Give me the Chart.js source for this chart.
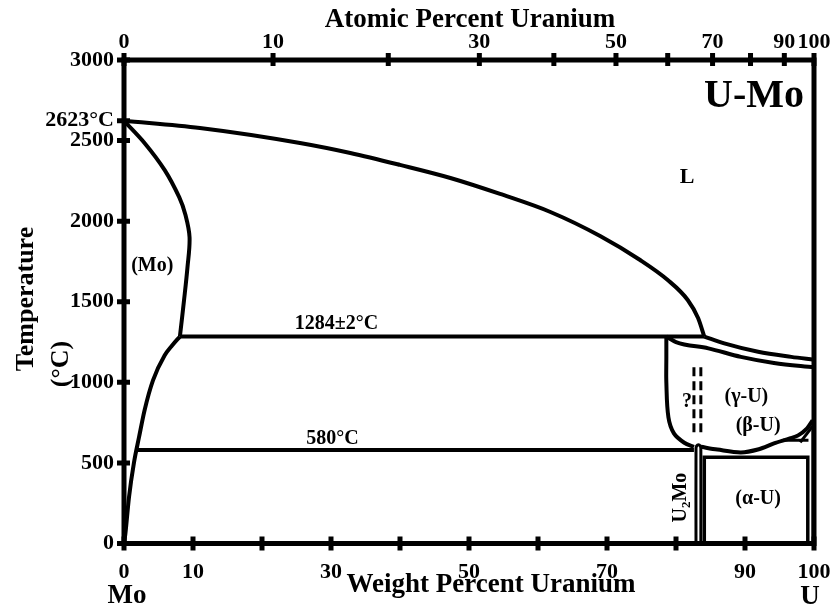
<!DOCTYPE html>
<html>
<head>
<meta charset="utf-8">
<script src="https://cdn.jsdelivr.net/npm/chart.js@4.4.0/dist/chart.umd.min.js"></script>
<style>
  html, body { margin: 0; padding: 0; background: #fff; }
  #wrap { width: 834px; height: 609px; }
</style>
</head>
<body>
<div id="wrap"><canvas id="chart"></canvas></div>
<script>
// bottom axis: weight percent uranium
const wtTicks = [0, 10, 20, 30, 40, 50, 60, 70, 80, 90, 100];
const wtLabels = ['0', '10', '', '30', '', '50', '', '70', '', '90', '100'];
// top axis: atomic percent uranium, placed at the matching weight percent
const atTickPos = [0, 21.6, 38.3, 51.5, 62.3, 71.3, 78.8, 85.3, 90.8, 95.7, 100];
const atLabels = ['0', '10', '', '30', '', '50', '', '70', '', '90', '100'];
// temperature axis
const tempTicks = [0, 500, 1000, 1500, 2000, 2500, 3000];
const moMelt = 2623;

// phase boundaries, [wt% U, temperature °C]
const liquidus = [[0, 2623], [11.0, 2578], [25.5, 2485], [32.8, 2423], [40.0, 2349], [47.3, 2268], [54.5, 2169],
  [61.8, 2057], [69.0, 1908], [74.8, 1759], [78.8, 1635], [81.7, 1511], [83.2, 1399], [84.1, 1284]];
const liquidusU = [[84.1, 1284], [87, 1242], [91.9, 1190], [96.7, 1158], [100, 1140]];
const moSolidus = [[0, 2623], [3, 2484], [5.9, 2317], [8, 2149], [8.9, 2040], [9.5, 1900], [9.2, 1714],
  [8.7, 1509], [8.1, 1284]];
const moSolvus = [[8.1, 1284], [7.0, 1230], [5.9, 1168], [4.2, 1012], [3.0, 830], [2.17, 658], [1.45, 503],
  [0.72, 286], [0.2, 60], [0, 0]];
const monotectic = [[8.1, 1284], [84.1, 1284]];
const eutectoid = [[1.8, 580], [82.6, 580]];
const gammaLeft = [[78.6, 1284], [78.6, 1150], [78.6, 1000], [78.9, 783], [79.7, 683], [81.2, 625], [82.6, 600]];
const gammaSolidus = [[78.6, 1284], [80, 1250], [84.7, 1211], [89.4, 1158], [94.2, 1120], [100, 1093]];
const betaLower = [[83.6, 600], [86, 583], [89.4, 565], [92, 585], [94.2, 621], [96.5, 652], [97.7, 671],
  [99, 715], [99.8, 764]];
const betaAlpha = [[95.5, 640], [99.2, 640]];
const betaDiag = [[98.0, 627], [99.9, 733]];
const u2mo = [[82.9, 0], [82.9, 590], [83.0, 606], [83.25, 612], [83.5, 606], [83.6, 590], [83.6, 0]];
const alphaBox = [[84.1, 0], [84.1, 535], [99.1, 535], [99.1, 0]];
const rightInner = [[99.9, 0], [99.9, 702]];
const dashA = [[82.6, 1093], [82.6, 689]];
const dashB = [[83.6, 1093], [83.6, 689]];

const serif = "'Liberation Serif', 'Times New Roman', serif";

function pts(arr) {
  return arr.map(p => ({ x: p[0], y: p[1] }));
}

function curve(arr, width, tension, dash) {
  return {
    data: pts(arr),
    showLine: true,
    borderColor: '#000',
    borderWidth: width,
    pointRadius: 0,
    tension: tension,
    borderDash: dash || [],
    fill: false
  };
}

function smooth(arr, width) {
  const ds = curve(arr, width, 0.4);
  ds.cubicInterpolationMode = 'monotone';
  return ds;
}

// text placed on the diagram [text, wt%, °C, size]
const notes = [
  ['L', 81.6, 2270, 22],
  ['(Mo)', 4.1, 1720, 20],
  ['1284±2°C', 30.8, 1360, 20],
  ['580°C', 30.2, 650, 20],
  ['(γ-U)', 90.2, 910, 20],
  ['(β-U)', 91.9, 730, 20],
  ['(α-U)', 91.9, 280, 20],
  ['?', 81.6, 880, 20]
];

const drawPlugin = {
  id: 'drawPlugin',
  afterDraw(chart) {
    const ctx = chart.ctx;
    const a = chart.chartArea;
    const sx = chart.scales.x;
    const sx2 = chart.scales.x2;
    const sy = chart.scales.y;
    ctx.save();
    ctx.strokeStyle = '#000';
    ctx.fillStyle = '#000';
    ctx.lineCap = 'butt';

    // frame
    ctx.lineWidth = 5;
    ctx.strokeRect(a.left, a.top, a.right - a.left, a.bottom - a.top);

    // tick marks crossing the axes
    ctx.lineWidth = 5;
    ctx.beginPath();
    sx.ticks.forEach(t => {
      const px = sx.getPixelForValue(t.value);
      ctx.moveTo(px, a.bottom - 7);
      ctx.lineTo(px, a.bottom + 7);
    });
    sx2.ticks.forEach(t => {
      const px = sx2.getPixelForValue(t.value);
      ctx.moveTo(px, a.top - 7);
      ctx.lineTo(px, a.top + 6);
    });
    sy.ticks.forEach(t => {
      const py = sy.getPixelForValue(t.value);
      ctx.moveTo(a.left - 7, py);
      ctx.lineTo(a.left + 6, py);
    });
    ctx.stroke();

    // phase labels
    ctx.textAlign = 'center';
    ctx.textBaseline = 'middle';
    notes.forEach(n => {
      ctx.font = 'bold ' + n[3] + 'px ' + serif;
      ctx.fillText(n[0], sx.getPixelForValue(n[1]), sy.getPixelForValue(n[2]));
    });

    // U2Mo, rotated
    ctx.save();
    ctx.translate(sx.getPixelForValue(80.5), sy.getPixelForValue(285));
    ctx.rotate(-Math.PI / 2);
    ctx.textAlign = 'left';
    ctx.textBaseline = 'alphabetic';
    ctx.font = 'bold 20px ' + serif;
    const wU = ctx.measureText('U').width;
    ctx.font = 'bold 13px ' + serif;
    const w2 = ctx.measureText('2').width;
    ctx.font = 'bold 20px ' + serif;
    const wMo = ctx.measureText('Mo').width;
    let x0 = -(wU + w2 + wMo) / 2;
    ctx.fillText('U', x0, 7);
    ctx.font = 'bold 13px ' + serif;
    ctx.fillText('2', x0 + wU, 11);
    ctx.font = 'bold 20px ' + serif;
    ctx.fillText('Mo', x0 + wU + w2, 7);
    ctx.restore();

    // axis titles
    ctx.font = 'bold 27px ' + serif;
    ctx.textAlign = 'center';
    ctx.textBaseline = 'alphabetic';
    ctx.fillText('Atomic Percent Uranium', 470, 27);
    ctx.fillText('Weight Percent Uranium', 491, 592);
    ctx.fillText('Mo', 127, 603);
    ctx.fillText('U', 810, 604);

    ctx.font = 'bold 40px ' + serif;
    ctx.textAlign = 'right';
    ctx.fillText('U-Mo', 804, 107);

    ctx.font = 'bold 26px ' + serif;
    ctx.textAlign = 'center';
    ctx.save();
    ctx.translate(33, 299);
    ctx.rotate(-Math.PI / 2);
    ctx.fillText('Temperature', 0, 0);
    ctx.restore();
    ctx.save();
    ctx.translate(68, 364);
    ctx.rotate(-Math.PI / 2);
    ctx.fillText('(°C)', 0, 0);
    ctx.restore();

    ctx.restore();
  }
};

const tickFont = { family: serif, size: 22, weight: 'bold' };

// keep the plot box fixed: no extra room for overhanging end labels
function noOverhang(s) {
  s.paddingLeft = 0;
  s.paddingRight = 0;
}

new Chart(document.getElementById('chart'), {
  type: 'scatter',
  data: {
    datasets: [
      smooth(liquidus, 4),
      smooth(liquidusU, 4),
      curve(moSolidus, 4, 0.35),
      smooth(moSolvus, 4),
      curve(monotectic, 4, 0),
      curve(eutectoid, 4, 0),
      curve(gammaLeft, 4, 0.35),
      smooth(gammaSolidus, 4),
      curve(betaLower, 4, 0.3),
      curve(betaAlpha, 3, 0),
      curve(betaDiag, 3, 0),
      curve(u2mo, 3, 0.3),
      curve(alphaBox, 3.5, 0),
      curve(rightInner, 3.5, 0),
      curve(dashA, 3, 0, [9, 5]),
      curve(dashB, 3, 0, [9, 5])
    ]
  },
  options: {
    responsive: true,
    maintainAspectRatio: false,
    animation: false,
    layout: { padding: { left: 0, right: 20, top: 0, bottom: 0 } },
    plugins: { legend: { display: false }, tooltip: { enabled: false } },
    scales: {
      x: {
        type: 'linear',
        position: 'bottom',
        min: 0,
        max: 100,
        afterBuildTicks: s => { s.ticks = wtTicks.map(v => ({ value: v })); },
        afterFit: s => { s.height = 65.5; noOverhang(s); },
        grid: { display: false, drawTicks: false },
        border: { display: false },
        ticks: {
          autoSkip: false, maxRotation: 0, color: '#000', font: tickFont, padding: 16,
          callback: (v, i) => wtLabels[i]
        }
      },
      x2: {
        type: 'linear',
        position: 'top',
        min: 0,
        max: 100,
        afterBuildTicks: s => { s.ticks = atTickPos.map(v => ({ value: v })); },
        afterFit: s => { s.height = 60; noOverhang(s); },
        grid: { display: false, drawTicks: false },
        border: { display: false },
        ticks: {
          autoSkip: false, maxRotation: 0, color: '#000', font: tickFont, padding: 4,
          callback: (v, i) => atLabels[i]
        }
      },
      y: {
        type: 'linear',
        min: 0,
        max: 3000,
        afterBuildTicks: s => { s.ticks = tempTicks.concat([moMelt]).map(v => ({ value: v })); },
        afterFit: s => { s.width = 124; s.paddingTop = 0; s.paddingBottom = 0; },
        grid: { display: false, drawTicks: false },
        border: { display: false },
        ticks: {
          autoSkip: false, color: '#000', font: tickFont, padding: 10,
          callback: v => (v === moMelt ? '2623°C' : String(v))
        }
      }
    }
  },
  plugins: [drawPlugin]
});
</script>
</body>
</html>
